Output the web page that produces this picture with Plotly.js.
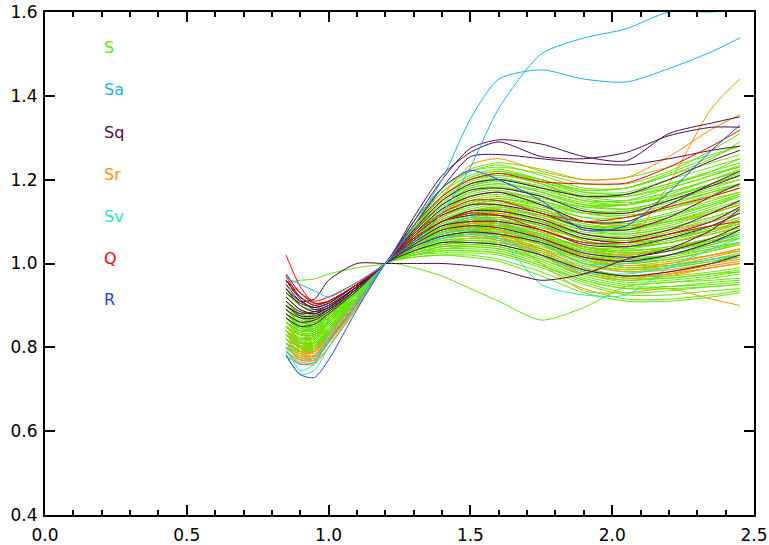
<!DOCTYPE html>
<html><head><meta charset="utf-8">
<script src="https://cdn.plot.ly/plotly-3.0.1.min.js"></script>
<style>html,body{margin:0;padding:0;background:#fff}#chart{width:769px;height:545px}</style>
</head><body><div id="chart"></div>
<script>
// x positions shared by every curve
const X = [0.85,0.9,0.95,1.0,1.1,1.2,1.3,1.4,1.5,1.6,1.75,1.9,2.05,2.2,2.35,2.45];

// S (green)
const S = [
[0.90,0.87,0.87,0.89,0.94,1.0,1.10,1.18,1.225,1.24,1.225,1.20,1.205,1.23,1.26,1.28],
[0.86,0.83,0.83,0.86,0.93,1.0,1.09,1.17,1.22,1.235,1.21,1.18,1.18,1.21,1.25,1.29],
[0.93,0.90,0.89,0.91,0.95,1.0,1.10,1.18,1.22,1.23,1.215,1.19,1.19,1.22,1.27,1.31],
[0.84,0.81,0.81,0.84,0.92,1.0,1.09,1.17,1.21,1.225,1.20,1.17,1.165,1.19,1.22,1.24],
[0.88,0.85,0.85,0.87,0.93,1.0,1.09,1.16,1.205,1.22,1.20,1.175,1.18,1.21,1.24,1.26],
[0.91,0.88,0.875,0.89,0.94,1.0,1.08,1.16,1.20,1.215,1.19,1.16,1.15,1.17,1.20,1.22],
[0.82,0.80,0.80,0.83,0.91,1.0,1.09,1.16,1.20,1.21,1.195,1.17,1.17,1.20,1.23,1.25],
[0.87,0.84,0.84,0.86,0.93,1.0,1.08,1.15,1.19,1.205,1.18,1.15,1.14,1.16,1.19,1.21],
[0.95,0.92,0.905,0.91,0.95,1.0,1.08,1.15,1.19,1.20,1.18,1.16,1.165,1.19,1.215,1.23],
[0.85,0.82,0.82,0.85,0.92,1.0,1.08,1.15,1.185,1.195,1.17,1.14,1.13,1.15,1.18,1.20],
[0.89,0.86,0.86,0.88,0.935,1.0,1.08,1.14,1.18,1.19,1.175,1.15,1.15,1.18,1.21,1.23],
[0.83,0.80,0.81,0.84,0.915,1.0,1.075,1.14,1.175,1.185,1.16,1.13,1.12,1.14,1.17,1.19],
[0.92,0.89,0.88,0.895,0.945,1.0,1.07,1.13,1.17,1.18,1.165,1.14,1.14,1.16,1.19,1.21],
[0.86,0.83,0.83,0.855,0.925,1.0,1.07,1.13,1.165,1.175,1.15,1.12,1.11,1.13,1.16,1.18],
[0.80,0.78,0.79,0.83,0.91,1.0,1.07,1.13,1.16,1.17,1.155,1.135,1.14,1.17,1.20,1.22],
[0.90,0.87,0.865,0.88,0.94,1.0,1.07,1.125,1.155,1.165,1.145,1.12,1.115,1.13,1.155,1.17],
[0.84,0.82,0.82,0.85,0.92,1.0,1.065,1.12,1.15,1.16,1.14,1.11,1.10,1.12,1.15,1.17],
[0.88,0.85,0.85,0.87,0.93,1.0,1.065,1.12,1.145,1.155,1.135,1.11,1.11,1.135,1.165,1.19],
[0.94,0.91,0.895,0.905,0.95,1.0,1.06,1.11,1.14,1.15,1.13,1.10,1.09,1.10,1.13,1.15],
[0.81,0.79,0.80,0.835,0.915,1.0,1.06,1.11,1.135,1.145,1.125,1.10,1.095,1.115,1.14,1.16],
[0.87,0.84,0.84,0.865,0.93,1.0,1.06,1.105,1.13,1.14,1.12,1.09,1.08,1.095,1.12,1.14],
[0.91,0.88,0.87,0.885,0.94,1.0,1.06,1.10,1.125,1.135,1.115,1.09,1.085,1.105,1.135,1.16],
[0.83,0.81,0.81,0.845,0.92,1.0,1.055,1.10,1.12,1.13,1.11,1.08,1.07,1.085,1.11,1.13],
[0.86,0.83,0.835,0.86,0.925,1.0,1.055,1.095,1.115,1.125,1.105,1.08,1.075,1.09,1.12,1.14],
[0.89,0.86,0.86,0.88,0.935,1.0,1.05,1.09,1.11,1.12,1.10,1.07,1.06,1.07,1.09,1.11],
[0.80,0.785,0.79,0.83,0.91,1.0,1.05,1.09,1.105,1.115,1.095,1.07,1.065,1.08,1.105,1.125],
[0.93,0.90,0.885,0.895,0.945,1.0,1.05,1.085,1.10,1.11,1.09,1.06,1.05,1.06,1.08,1.10],
[0.85,0.83,0.83,0.855,0.925,1.0,1.05,1.08,1.095,1.105,1.085,1.06,1.055,1.075,1.10,1.12],
[0.87,0.845,0.845,0.87,0.93,1.0,1.045,1.08,1.095,1.10,1.08,1.05,1.04,1.05,1.07,1.09],
[0.82,0.80,0.805,0.84,0.915,1.0,1.045,1.075,1.09,1.095,1.075,1.05,1.04,1.055,1.08,1.10],
[0.90,0.87,0.865,0.88,0.94,1.0,1.045,1.075,1.085,1.09,1.07,1.04,1.03,1.04,1.06,1.08],
[0.84,0.82,0.82,0.85,0.92,1.0,1.04,1.07,1.08,1.085,1.065,1.04,1.035,1.05,1.075,1.095],
[0.88,0.85,0.85,0.875,0.935,1.0,1.04,1.065,1.075,1.08,1.06,1.03,1.02,1.03,1.05,1.07],
[0.81,0.79,0.795,0.835,0.91,1.0,1.04,1.065,1.07,1.075,1.055,1.03,1.02,1.035,1.06,1.08],
[0.92,0.89,0.875,0.89,0.94,1.0,1.035,1.06,1.065,1.07,1.05,1.02,1.01,1.02,1.04,1.05],
[0.86,0.84,0.84,0.865,0.93,1.0,1.035,1.055,1.06,1.065,1.045,1.015,1.005,1.015,1.035,1.05],
[0.83,0.81,0.815,0.85,0.92,1.0,1.035,1.055,1.06,1.06,1.04,1.01,0.995,1.005,1.02,1.035],
[0.89,0.86,0.855,0.875,0.935,1.0,1.03,1.05,1.055,1.055,1.035,1.005,0.99,0.995,1.01,1.02],
[0.85,0.83,0.83,0.86,0.925,1.0,1.03,1.045,1.05,1.05,1.03,0.995,0.98,0.99,1.005,1.02],
[0.80,0.79,0.80,0.84,0.915,1.0,1.03,1.045,1.05,1.045,1.02,0.985,0.97,0.975,0.99,1.0],
[0.87,0.85,0.85,0.87,0.93,1.0,1.025,1.04,1.045,1.04,1.015,0.98,0.96,0.965,0.975,0.985],
[0.91,0.88,0.87,0.885,0.94,1.0,1.025,1.04,1.04,1.035,1.01,0.97,0.95,0.955,0.965,0.975],
[0.84,0.82,0.825,0.855,0.925,1.0,1.02,1.035,1.035,1.03,1.0,0.96,0.94,0.945,0.955,0.96],
[0.82,0.80,0.81,0.845,0.92,1.0,1.02,1.03,1.03,1.025,0.995,0.955,0.93,0.935,0.945,0.95],
[0.86,0.84,0.84,0.865,0.93,1.0,1.02,1.025,1.025,1.02,0.99,0.95,0.925,0.925,0.935,0.94],
[0.88,0.86,0.855,0.875,0.935,1.0,1.015,1.02,1.02,1.01,0.98,0.94,0.915,0.915,0.925,0.935],
[0.83,0.815,0.82,0.85,0.92,1.0,1.015,1.02,1.015,1.005,0.97,0.93,0.91,0.91,0.92,0.93],
[0.87,0.85,0.85,0.87,0.93,1.0,0.99,0.97,0.94,0.91,0.865,0.895,0.945,0.955,0.96,0.965],
[0.955,0.96,0.963,0.975,0.99,1.0,1.03,1.06,1.08,1.09,1.07,1.04,1.03,1.04,1.06,1.08],
[0.85,0.82,0.825,0.855,0.925,1.0,1.075,1.135,1.17,1.18,1.16,1.135,1.13,1.15,1.175,1.19],
[0.90,0.87,0.86,0.875,0.935,1.0,1.065,1.115,1.14,1.15,1.125,1.095,1.085,1.10,1.125,1.145],
[0.82,0.80,0.805,0.84,0.915,1.0,1.06,1.105,1.125,1.13,1.115,1.09,1.09,1.11,1.14,1.165],
[0.88,0.855,0.85,0.87,0.93,1.0,1.05,1.09,1.11,1.115,1.09,1.055,1.04,1.05,1.07,1.085],
[0.86,0.835,0.835,0.86,0.925,1.0,1.045,1.075,1.09,1.095,1.07,1.04,1.025,1.035,1.055,1.07],
[0.93,0.90,0.885,0.895,0.945,1.0,1.04,1.07,1.08,1.08,1.055,1.02,1.005,1.01,1.03,1.045],
[0.81,0.795,0.80,0.84,0.915,1.0,1.035,1.06,1.07,1.07,1.05,1.015,1.0,1.01,1.03,1.05],
[0.87,0.845,0.845,0.87,0.93,1.0,1.03,1.05,1.055,1.05,1.025,0.99,0.97,0.97,0.98,0.99],
[0.84,0.82,0.825,0.855,0.925,1.0,1.025,1.04,1.045,1.04,1.01,0.975,0.955,0.96,0.97,0.98],
[0.89,0.86,0.855,0.875,0.935,1.0,1.08,1.145,1.185,1.20,1.185,1.16,1.16,1.185,1.22,1.25],
[0.83,0.81,0.815,0.85,0.92,1.0,1.085,1.155,1.195,1.21,1.19,1.155,1.145,1.16,1.185,1.20],
[0.86,0.84,0.845,0.87,0.93,1.0,1.07,1.125,1.16,1.17,1.15,1.125,1.125,1.145,1.17,1.185],
[0.91,0.875,0.865,0.88,0.94,1.0,1.075,1.14,1.18,1.19,1.17,1.145,1.14,1.165,1.20,1.225],
[0.82,0.80,0.80,0.835,0.915,1.0,1.085,1.16,1.205,1.22,1.195,1.165,1.16,1.18,1.21,1.235],
[0.88,0.85,0.845,0.865,0.93,1.0,1.06,1.115,1.14,1.15,1.13,1.10,1.095,1.115,1.145,1.165],
[0.85,0.825,0.825,0.855,0.925,1.0,1.055,1.10,1.125,1.135,1.115,1.085,1.08,1.10,1.125,1.145],
[0.90,0.875,0.87,0.885,0.94,1.0,1.05,1.095,1.115,1.125,1.10,1.075,1.07,1.085,1.11,1.13],
[0.83,0.81,0.81,0.845,0.92,1.0,1.05,1.085,1.105,1.11,1.09,1.06,1.05,1.06,1.085,1.105],
[0.87,0.845,0.84,0.865,0.93,1.0,1.045,1.08,1.10,1.105,1.08,1.05,1.045,1.06,1.08,1.095],
[0.92,0.89,0.88,0.89,0.945,1.0,1.04,1.07,1.085,1.09,1.065,1.035,1.025,1.035,1.055,1.075],
[0.84,0.815,0.815,0.85,0.92,1.0,1.04,1.065,1.075,1.075,1.055,1.025,1.01,1.02,1.045,1.065],
[0.86,0.835,0.835,0.86,0.925,1.0,1.035,1.06,1.07,1.07,1.045,1.01,0.99,0.995,1.01,1.025],
[0.81,0.79,0.795,0.835,0.915,1.0,1.03,1.05,1.06,1.06,1.035,1.0,0.985,0.99,1.005,1.015],
[0.89,0.865,0.86,0.88,0.935,1.0,1.03,1.045,1.05,1.045,1.02,0.985,0.965,0.965,0.975,0.98],
[0.85,0.83,0.83,0.86,0.925,1.0,1.025,1.035,1.04,1.035,1.005,0.965,0.945,0.945,0.95,0.955],
[0.88,0.855,0.85,0.87,0.935,1.0,1.02,1.03,1.03,1.025,0.995,0.96,0.94,0.94,0.945,0.95],
[0.83,0.805,0.81,0.845,0.92,1.0,1.09,1.16,1.20,1.215,1.20,1.175,1.18,1.215,1.255,1.28],
[0.90,0.87,0.86,0.88,0.935,1.0,1.065,1.12,1.145,1.155,1.14,1.12,1.125,1.155,1.19,1.215],
[0.87,0.85,0.85,0.87,0.93,1.0,1.055,1.10,1.12,1.125,1.10,1.065,1.055,1.065,1.09,1.11],
[0.82,0.80,0.805,0.84,0.915,1.0,1.045,1.085,1.105,1.11,1.09,1.055,1.035,1.035,1.05,1.06],
[0.86,0.84,0.84,0.865,0.93,1.0,1.04,1.075,1.09,1.09,1.065,1.03,1.015,1.02,1.035,1.05]
];

// Sa (sky blue)
const Sa = [
[0.965,0.95,0.935,0.92,0.955,1.0,1.09,1.20,1.345,1.44,1.462,1.44,1.433,1.465,1.505,1.538],
[0.79,0.76,0.765,0.815,0.905,1.0,1.05,1.12,1.23,1.37,1.50,1.538,1.56,1.60,1.60,1.61]
];

// Sq (dark purple)
const Sq = [
[0.96,0.92,0.90,0.91,0.95,1.0,1.10,1.20,1.275,1.295,1.285,1.255,1.245,1.31,1.335,1.35],
[0.93,0.905,0.895,0.905,0.95,1.0,1.11,1.21,1.265,1.29,1.255,1.25,1.265,1.305,1.325,1.325],
[0.975,0.93,0.905,0.91,0.95,1.0,1.09,1.18,1.255,1.26,1.25,1.24,1.235,1.25,1.27,1.28],
[0.90,0.88,0.885,0.90,0.945,1.0,1.08,1.15,1.19,1.20,1.18,1.16,1.165,1.20,1.245,1.27],
[0.95,0.91,0.895,0.905,0.95,1.0,1.07,1.13,1.16,1.17,1.14,1.10,1.10,1.14,1.19,1.22],
[0.92,0.89,0.88,0.895,0.945,1.0,1.065,1.115,1.14,1.14,1.12,1.085,1.08,1.11,1.16,1.19],
[0.88,0.86,0.865,0.885,0.94,1.0,1.05,1.09,1.10,1.10,1.08,1.045,1.04,1.06,1.09,1.12],
[0.94,0.90,0.885,0.895,0.945,1.0,1.04,1.065,1.075,1.07,1.05,1.015,1.005,1.02,1.05,1.08],
[0.89,0.87,0.87,0.89,0.94,1.0,1.03,1.05,1.05,1.045,1.02,0.985,0.97,0.98,1.0,1.02],
[0.94,0.91,0.915,0.96,1.0,1.0,1.0,1.0,0.995,0.985,0.96,0.975,1.01,1.035,1.08,1.13],
[0.91,0.885,0.88,0.895,0.945,1.0,1.075,1.14,1.175,1.18,1.16,1.125,1.12,1.15,1.185,1.21],
[0.87,0.85,0.855,0.88,0.935,1.0,1.06,1.10,1.125,1.125,1.105,1.07,1.06,1.08,1.12,1.15],
[0.96,0.915,0.89,0.90,0.945,1.0,1.055,1.10,1.115,1.115,1.095,1.06,1.05,1.07,1.10,1.135],
[0.90,0.875,0.875,0.89,0.94,1.0,1.045,1.08,1.09,1.085,1.06,1.025,1.015,1.03,1.06,1.09]
];

// Sr (orange)
const Sr = [
[0.84,0.80,0.79,0.82,0.90,1.0,1.08,1.16,1.235,1.25,1.22,1.20,1.205,1.255,1.32,1.355],
[0.82,0.785,0.78,0.815,0.905,1.0,1.05,1.09,1.10,1.08,1.02,0.975,1.04,1.19,1.37,1.44],
[0.80,0.77,0.77,0.81,0.90,1.0,1.05,1.08,1.09,1.07,1.00,0.935,0.93,0.94,0.915,0.90],
[0.79,0.765,0.77,0.81,0.90,1.0,1.06,1.11,1.14,1.14,1.11,1.07,1.06,1.08,1.10,1.12],
[0.81,0.78,0.78,0.82,0.905,1.0,1.055,1.10,1.12,1.12,1.09,1.04,1.025,1.035,1.055,1.07],
[0.83,0.80,0.795,0.83,0.91,1.0,1.05,1.09,1.105,1.10,1.065,1.02,1.0,1.01,1.03,1.045],
[0.78,0.76,0.765,0.80,0.895,1.0,1.045,1.08,1.095,1.09,1.055,1.01,0.99,1.0,1.02,1.03],
[0.85,0.815,0.81,0.835,0.91,1.0,1.045,1.075,1.085,1.08,1.045,1.0,0.98,0.985,1.0,1.01],
[0.80,0.775,0.775,0.815,0.90,1.0,1.04,1.07,1.08,1.07,1.035,0.99,0.97,0.98,0.995,1.005],
[0.82,0.79,0.79,0.825,0.905,1.0,1.06,1.12,1.16,1.17,1.14,1.10,1.09,1.10,1.12,1.14],
[0.84,0.81,0.805,0.835,0.91,1.0,1.05,1.085,1.10,1.095,1.06,1.015,0.995,1.0,1.02,1.035],
[0.79,0.77,0.775,0.815,0.90,1.0,1.04,1.065,1.075,1.065,1.03,0.985,0.97,0.975,0.99,1.0],
[0.83,0.795,0.79,0.825,0.905,1.0,1.055,1.10,1.125,1.13,1.10,1.055,1.04,1.05,1.075,1.095],
[0.86,0.83,0.825,0.85,0.92,1.0,1.035,1.06,1.065,1.055,1.02,0.975,0.96,0.97,0.99,1.00],
[0.80,0.775,0.78,0.82,0.905,1.0,1.045,1.08,1.10,1.095,1.06,1.02,1.005,1.02,1.045,1.06],
[0.82,0.79,0.785,0.82,0.905,1.0,1.04,1.07,1.085,1.08,1.045,1.0,0.985,0.995,1.015,1.03],
[0.78,0.76,0.76,0.80,0.895,1.0,1.05,1.09,1.11,1.105,1.075,1.035,1.02,1.035,1.06,1.08],
[0.84,0.805,0.80,0.83,0.91,1.0,1.035,1.06,1.07,1.06,1.025,0.98,0.965,0.975,1.0,1.015]
];

// Sv (turquoise)
const Sv = [
[0.785,0.735,0.745,0.80,0.90,1.0,1.04,1.07,1.08,1.06,0.95,0.925,0.925,0.99,1.035,1.06],
[0.80,0.745,0.76,0.83,0.92,1.0,1.05,1.09,1.11,1.10,1.05,1.00,1.0,1.02,1.05,1.07],
[0.81,0.77,0.775,0.82,0.905,1.0,1.04,1.06,1.07,1.06,1.02,0.98,0.975,0.99,1.01,1.02]
];

// Q (red)
const Q = [
[1.02,0.945,0.905,0.91,0.95,1.0,1.09,1.16,1.20,1.215,1.195,1.19,1.192,1.23,1.28,1.318],
[0.97,0.92,0.90,0.91,0.95,1.0,1.07,1.12,1.15,1.15,1.12,1.10,1.11,1.135,1.16,1.18],
[0.96,0.93,0.91,0.92,0.955,1.0,1.06,1.10,1.12,1.115,1.08,1.05,1.05,1.07,1.09,1.10]
];

// R (blue)
const R = [
[0.78,0.735,0.728,0.77,0.89,1.0,1.09,1.18,1.222,1.20,1.15,1.08,1.09,1.17,1.27,1.33]
];

const LABELS = ['S','Sa','Sq','Sr','Sv','Q','R'];
const LABEL_Y = [1.515,1.415,1.313,1.213,1.113,1.013,0.913];
const COLORS = {S:'#66e600', Sa:'#18b4f0', Sq:'#4d0a4d', Sr:'#ff9000', Sv:'#1ee6c8', Q:'#ff0000', R:'#2040ff'};

function mk(ys, key){
  return {x:X, y:ys, type:'scatter', mode:'lines', hoverinfo:'skip', showlegend:false,
          line:{color:COLORS[key], width:1, shape:'spline', smoothing:0.7}};
}
const traces = [];
S.slice(0,40).forEach(y=>traces.push(mk(y,'S')));
Sr.forEach(y=>traces.push(mk(y,'Sr')));
S.slice(40).forEach(y=>traces.push(mk(y,'S')));
Sv.forEach(y=>traces.push(mk(y,'Sv')));
Sq.forEach(y=>traces.push(mk(y,'Sq')));
Q.forEach(y=>traces.push(mk(y,'Q')));
R.forEach(y=>traces.push(mk(y,'R')));
Sa.forEach(y=>traces.push(mk(y,'Sa')));

const FONT = 'DejaVu Sans, sans-serif';
const axisCommon = {showline:true, linecolor:'#000', linewidth:2, mirror:'ticks', ticks:'inside',
  ticklen:10, tickwidth:2, tickcolor:'#000', showgrid:false, zeroline:false, tickformat:'.1f',
  tickfont:{family:FONT, size:17, color:'#000'}};

const layout = {
  width:769, height:545, margin:{l:45, r:15, t:12, b:30},
  paper_bgcolor:'#fff', plot_bgcolor:'#fff', showlegend:false,
  xaxis:Object.assign({}, axisCommon, {range:[0,2.5], tick0:0, dtick:0.5, ticklabelstandoff:4,
     minor:{dtick:0.1, ticks:'inside', ticklen:5, tickwidth:2, tickcolor:'#000', showgrid:false}}),
  yaxis:Object.assign({}, axisCommon, {range:[0.4,1.6], tick0:0.4, dtick:0.2, ticklabelstandoff:2}),
  annotations: LABELS.map((t,i)=>({x:0.2, y:LABEL_Y[i], xref:'x', yref:'y', text:t, showarrow:false,
     xanchor:'left', yanchor:'middle', font:{family:FONT, size:16, color:COLORS[t]}}))
};
Plotly.newPlot('chart', traces, layout, {staticPlot:true, displayModeBar:false});
</script></body></html>
